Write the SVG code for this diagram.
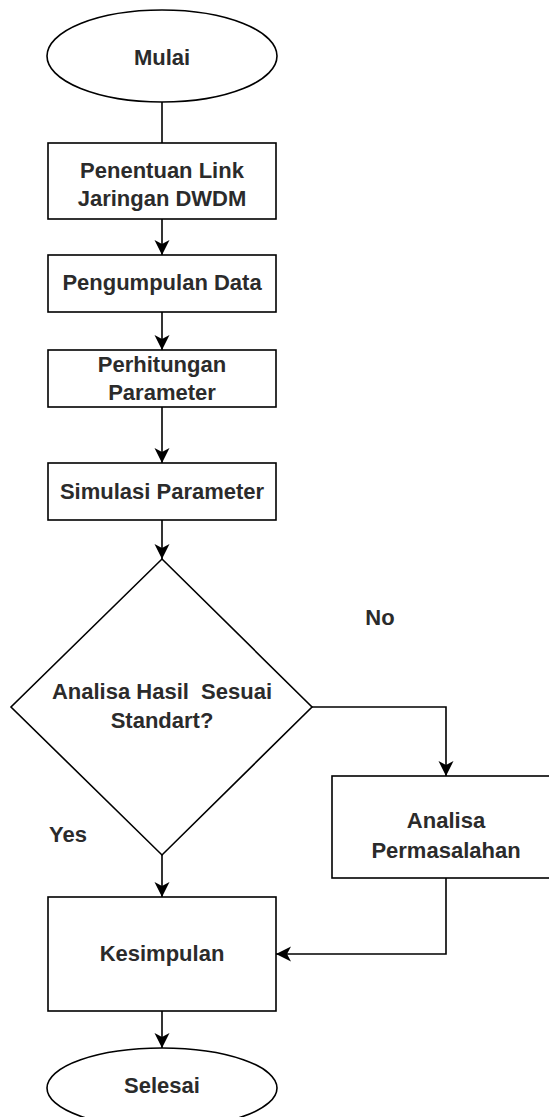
<svg xmlns="http://www.w3.org/2000/svg" width="549" height="1117" viewBox="0 0 549 1117">
<defs>
<style>
.shape{fill:#fff;stroke:#000;stroke-width:1.6}
.edge{fill:none;stroke:#000;stroke-width:1.6}
text{font-family:"Liberation Sans",Arial,sans-serif;font-size:22px;font-weight:bold;fill:#2b2b2b;text-anchor:middle}
</style>
<marker id="arr" markerUnits="userSpaceOnUse" viewBox="-16 -9 18 18" refX="0" refY="0" markerWidth="18" markerHeight="18" orient="auto">
<path d="M0,0 L-15,-7.5 L-11,0 L-15,7.5 Z" fill="#000"/>
</marker>
</defs>
<rect width="549" height="1117" fill="#fff"/>
<g id="connectors">
<line class="edge" x1="162" y1="102" x2="162" y2="143"/>
<line class="edge" x1="162" y1="219" x2="162" y2="255" marker-end="url(#arr)"/>
<line class="edge" x1="162" y1="312" x2="162" y2="350" marker-end="url(#arr)"/>
<line class="edge" x1="162" y1="407" x2="162" y2="463" marker-end="url(#arr)"/>
<line class="edge" x1="162" y1="520" x2="162" y2="559" marker-end="url(#arr)"/>
<polyline class="edge" points="312,707 446,707 446,776" marker-end="url(#arr)"/>
<line class="edge" x1="162" y1="855" x2="162" y2="897" marker-end="url(#arr)"/>
<polyline class="edge" points="446,878 446,954 276,954" marker-end="url(#arr)"/>
<line class="edge" x1="162" y1="1011" x2="162" y2="1048" marker-end="url(#arr)"/>
<text x="380" y="625">No</text>
<text x="68" y="842">Yes</text>
</g>
<g id="mulai">
<ellipse class="shape" cx="162" cy="56" rx="115" ry="46"/>
<text x="162" y="65">Mulai</text>
</g>
<g id="penentuan">
<rect class="shape" x="48" y="143" width="228" height="76"/>
<text x="162" y="178">Penentuan Link</text>
<text x="162" y="206">Jaringan DWDM</text>
</g>
<g id="pengumpulan">
<rect class="shape" x="48" y="255" width="228" height="57"/>
<text x="162" y="290">Pengumpulan Data</text>
</g>
<g id="perhitungan">
<rect class="shape" x="48" y="350" width="228" height="57"/>
<text x="162" y="372">Perhitungan</text>
<text x="162" y="400">Parameter</text>
</g>
<g id="simulasi">
<rect class="shape" x="48" y="463" width="228" height="57"/>
<text x="162" y="499">Simulasi Parameter</text>
</g>
<g id="analisa-hasil">
<polygon class="shape" points="162,559 312,707 162,855 11,707"/>
<text x="162" y="699" xml:space="preserve">Analisa Hasil  Sesuai</text>
<text x="162" y="728">Standart?</text>
</g>
<g id="analisa-permasalahan">
<rect class="shape" x="332" y="776" width="228" height="102"/>
<text x="446" y="828">Analisa</text>
<text x="446" y="858">Permasalahan</text>
</g>
<g id="kesimpulan">
<rect class="shape" x="48" y="897" width="228" height="114"/>
<text x="162" y="961">Kesimpulan</text>
</g>
<g id="selesai">
<ellipse class="shape" cx="162" cy="1088" rx="115" ry="40"/>
<text x="162" y="1093">Selesai</text>
</g>
</svg>
